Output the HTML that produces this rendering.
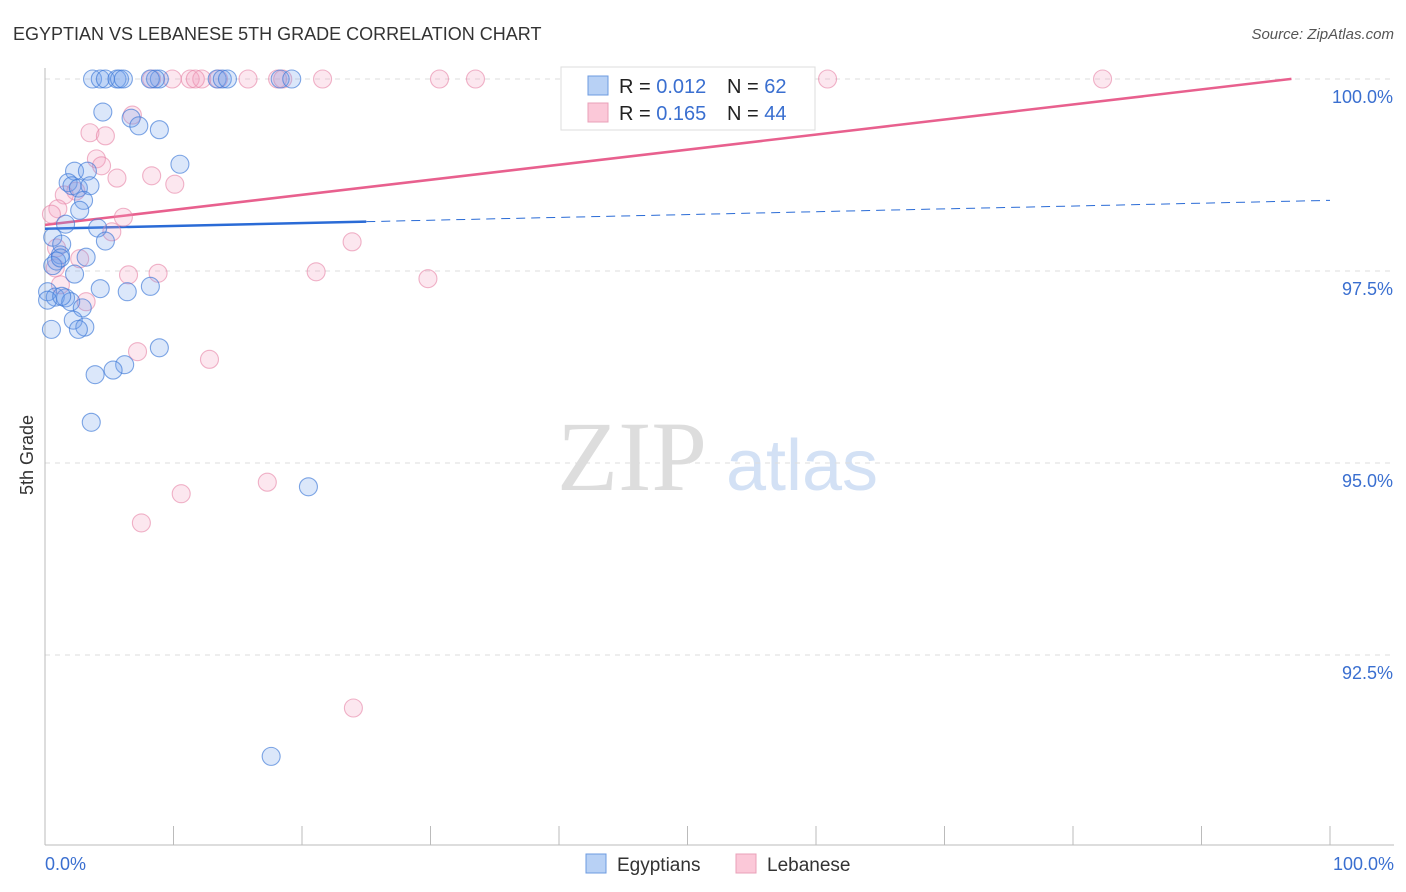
<!DOCTYPE html>
<html><head><meta charset="utf-8"><style>
body{margin:0;background:#fff;font-family:"Liberation Sans",sans-serif;}
#wrap{position:relative;width:1406px;height:892px;overflow:hidden}
</style></head><body>
<div id="wrap">
<svg id="svg" width="1406" height="892" xmlns="http://www.w3.org/2000/svg">
<text x="13" y="40" font-size="18" fill="#333">EGYPTIAN VS LEBANESE 5TH GRADE CORRELATION CHART</text>
<text x="1394" y="39" font-size="15" fill="#555" font-style="italic" text-anchor="end">Source: ZipAtlas.com</text>
<text x="33" y="455" font-size="18" fill="#333" transform="rotate(-90 33 455)" text-anchor="middle">5th Grade</text>
<text x="632" y="490" font-size="100" fill="#ddd" font-family="Liberation Serif,serif" text-anchor="middle">ZIP</text>
<text x="802" y="490" font-size="72" fill="#d3e1f5" text-anchor="middle">atlas</text>
<g id="grid"></g><g id="axes"></g><g id="trend"></g><g id="pts"></g>
<g>
<rect x="561" y="67" width="254" height="63" fill="#fff" stroke="#ddd"/>
<rect x="588" y="76" width="20" height="19" fill="#b8d1f5" stroke="#6d9be0"/>
<rect x="588" y="103" width="20" height="19" fill="#fbc8d8" stroke="#eaa0b8"/>
<text x="619" y="93" font-size="20" fill="#222">R = <tspan fill="#3a6fd0">0.012</tspan><tspan x="727">N = </tspan><tspan fill="#3a6fd0">62</tspan></text>
<text x="619" y="120" font-size="20" fill="#222">R = <tspan fill="#3a6fd0">0.165</tspan><tspan x="727">N = </tspan><tspan fill="#3a6fd0">44</tspan></text>
</g>
<g>
<rect x="586" y="854" width="20" height="19" fill="#b8d1f5" stroke="#6d9be0"/>
<text x="617" y="871" font-size="19" fill="#333">Egyptians</text>
<rect x="736" y="854" width="20" height="19" fill="#fbc8d8" stroke="#eaa0b8"/>
<text x="767" y="871" font-size="19" fill="#333">Lebanese</text>
</g>
<text x="45" y="870" font-size="18" fill="#3a6fd0">0.0%</text>
<text x="1394" y="870" font-size="18" fill="#3a6fd0" text-anchor="end">100.0%</text>
</svg></div>
<script>
const egyX=[3.7,4.3,4.7,5.6,5.8,6.1,8.9,13.4,13.8,18.3,19.2,8.6,8.2,14.2,4.5,6.7,7.3,8.9,10.5,2.3,3.3,1.8,2.1,2.6,3.5,3.0,2.7,4.1,1.6,0.6,1.3,4.7,1.2,3.2,0.9,0.6,2.3,0.2,0.8,1.6,2.0,2.9,4.3,6.4,8.2,2.2,3.1,2.6,0.5,8.9,6.2,5.3,3.9,3.6,20.5,17.6,0.2,1.3,1.2];
const egyY=[100,100,100,100,100,100,100,100,100,100,100,100,100,100,99.57,99.49,99.39,99.34,98.89,98.80,98.80,98.65,98.61,98.58,98.61,98.42,98.29,98.06,98.11,97.94,97.85,97.89,97.71,97.68,97.63,97.57,97.46,97.23,97.16,97.15,97.10,97.02,97.27,97.23,97.30,96.86,96.77,96.74,96.74,96.50,96.28,96.21,96.15,95.53,94.69,91.18,97.12,97.17,97.67];
const lebX=[8.3,9.9,11.3,12.2,11.7,13.5,15.8,18.1,18.5,21.6,30.7,33.5,60.9,82.3,6.8,3.5,4.7,4.0,4.4,5.6,8.3,10.1,2.4,1.5,1.0,6.1,0.5,5.2,0.9,23.9,2.7,0.8,6.5,8.8,21.1,29.8,3.2,1.2,7.2,12.8,10.6,17.3,7.5,24.0];
const lebY=[100,100,100,100,100,100,100,100,100,100,100,100,100,100,99.53,99.30,99.26,98.96,98.87,98.71,98.74,98.63,98.54,98.49,98.31,98.20,98.24,98.01,97.80,97.88,97.66,97.54,97.45,97.47,97.49,97.40,97.10,97.32,96.45,96.35,94.60,94.75,94.22,91.81];
const yTicks=[100,97.5,95,92.5];
const yTickLabels=["100.0%","97.5%","95.0%","92.5%"];
const egyTrend=[98.05,98.42];
const lebTrend=[98.10,100.06];
const NS="http://www.w3.org/2000/svg";
const X0=45,X1=1330,Y100=79,PXPER=76.8;
const sx=v=>X0+(X1-X0)*v/100;
const sy=v=>Y100+(100-v)*PXPER;
function mk(tag,attrs,parent){const e=document.createElementNS(NS,tag);for(const k in attrs)e.setAttribute(k,attrs[k]);parent.appendChild(e);return e;}
const grid=document.getElementById('grid'),axes=document.getElementById('axes'),trend=document.getElementById('trend'),pts=document.getElementById('pts');
yTicks.forEach((t,i)=>{
 const l=mk('line',{x1:45,x2:1394,y1:sy(t),y2:sy(t),stroke:'#ddd','stroke-dasharray':'5,5'},grid);
 
 
 const tx=mk('text',{x:1393,y:sy(t)+24,'font-size':18,fill:'#3a6fd0','text-anchor':'end'},grid);
 tx.textContent=yTickLabels[i];
 
 
});
const ya=mk('line',{x1:45,x2:45,y1:68,y2:845,stroke:'#bbb'},axes);


const xa=mk('line',{x1:45,x2:1394,y1:845,y2:845,stroke:'#bbb'},axes);


for(let i=0;i<=10;i++){const t=mk('line',{x1:sx(i*10),x2:sx(i*10),y1:826,y2:845,stroke:'#bbb'},axes);
 
 }
function dots(xs,ys,fill,stroke,name){xs.forEach((x,i)=>{const c=mk('circle',{cx:sx(x),cy:sy(ys[i]),r:9,fill:fill,stroke:stroke,'stroke-width':1.1},pts);
 
 });}
dots(lebX,lebY,'rgba(245,160,190,0.25)','rgba(230,130,165,0.6)','lebanese-point');
dots(egyX,egyY,'rgba(110,160,235,0.25)','rgba(60,120,215,0.65)','egyptian-point');
const ey=x=>egyTrend[0]+(egyTrend[1]-egyTrend[0])*x/100;
const ly=x=>lebTrend[0]+(lebTrend[1]-lebTrend[0])*x/100;
const lx=97;
const pl=mk('line',{x1:sx(0),y1:sy(ly(0)),x2:sx(lx),y2:sy(ly(lx)),stroke:'#e8608e','stroke-width':2.5},trend);


const b1=mk('line',{x1:sx(0),y1:sy(ey(0)),x2:sx(25),y2:sy(ey(25)),stroke:'#2a6bd6','stroke-width':2.5},trend);


const b2=mk('line',{x1:sx(25),y1:sy(ey(25)),x2:sx(100),y2:sy(ey(100)),stroke:'#2a6bd6','stroke-width':1,'stroke-dasharray':'9,6'},trend);


</script>
</body></html>
